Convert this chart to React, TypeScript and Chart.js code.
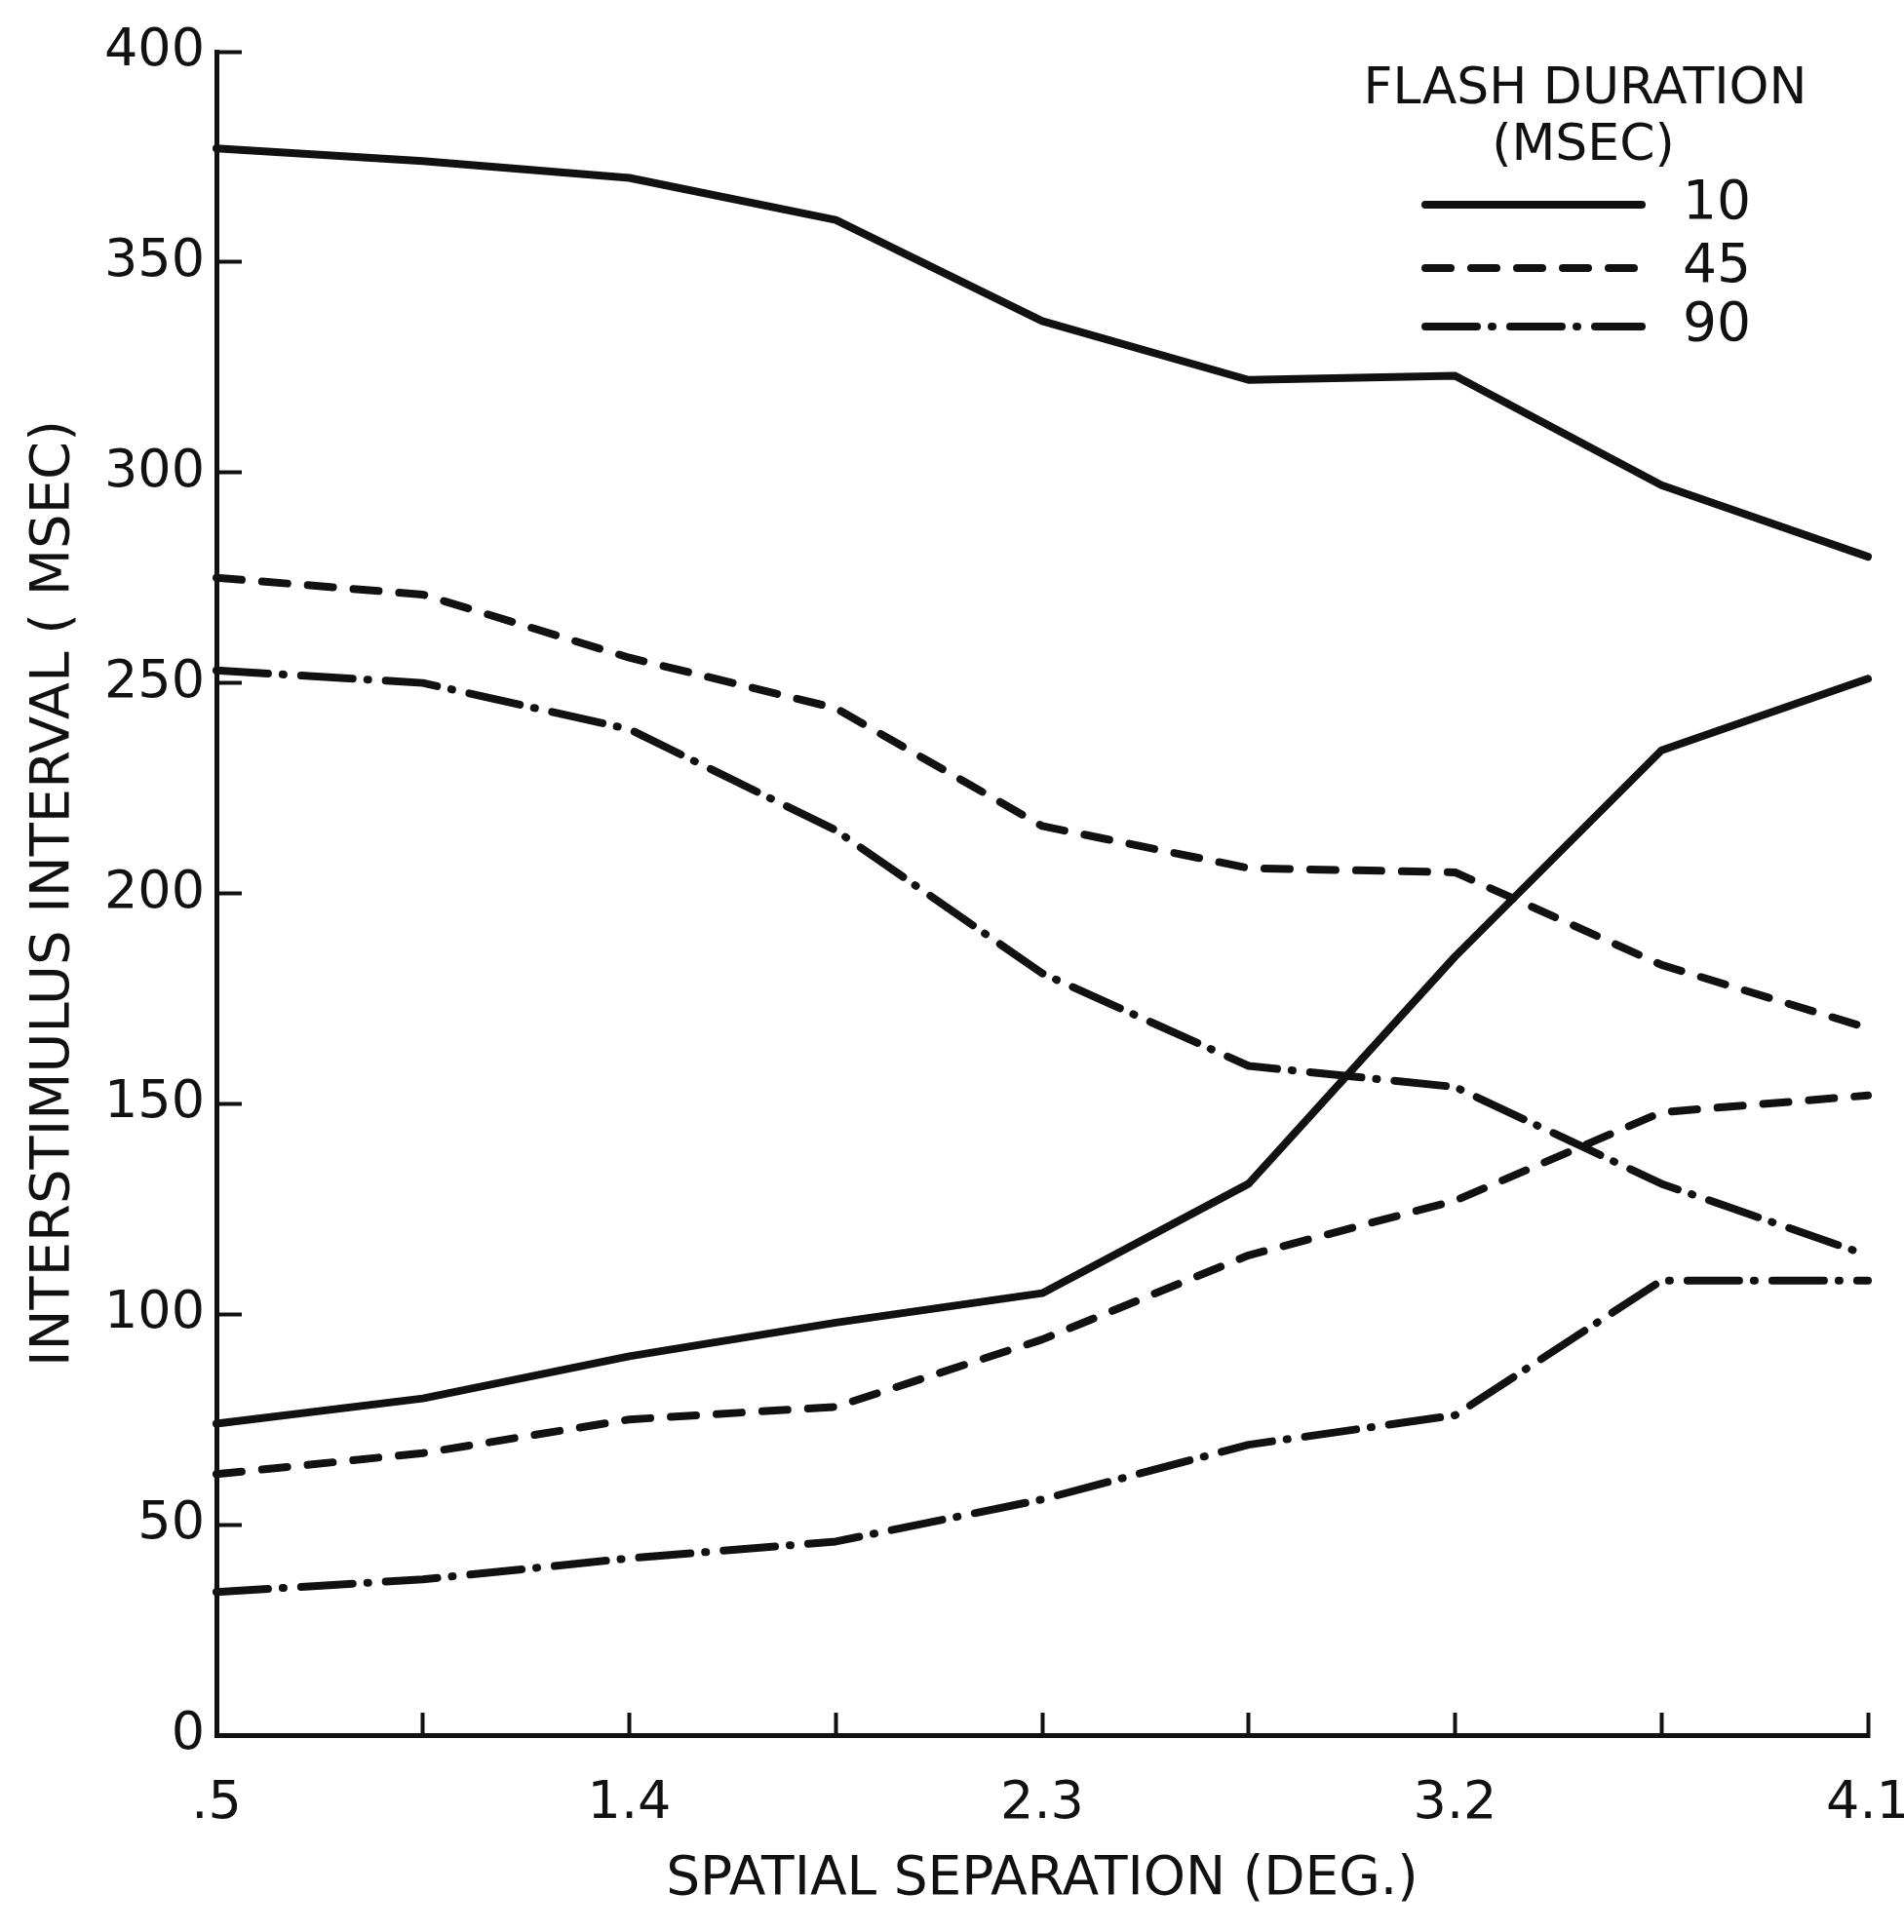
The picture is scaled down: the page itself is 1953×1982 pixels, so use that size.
import React, { FC, useEffect, useRef } from 'react';
import { Chart, registerables } from 'chart.js';
Chart.register(...registerables);

// spatial separation (deg.), one point per tick
const separations = ['.5', '.95', '1.4', '1.85', '2.3', '2.75', '3.2', '3.65', '4.1'];
const labelledSeparations = ['.5', '1.4', '2.3', '3.2', '4.1'];

// interstimulus interval (msec), upper and lower curve per flash duration
const flash10Upper = [377, 374, 370, 360, 336, 322, 323, 297, 280];
const flash10Lower = [74, 80, 90, 98, 105, 131, 185, 234, 251];
const flash45Upper = [275, 271, 256, 244, 216, 206, 205, 183, 168];
const flash45Lower = [62, 67, 75, 78, 94, 114, 127, 148, 152];
const flash90Upper = [253, 250, 239, 215, 181, 159, 154, 131, 114];
const flash90Lower = [34, 37, 42, 46, 56, 69, 76, 108, 108];

const durations = ['10', '45', '90'];
const dashes: number[][] = [[], [26, 21], [53, 15, 1, 18]];

const INK = '#111';
const FONT = "'DejaVu Sans', sans-serif";

const flashLegend = {
	id: 'flashLegend',
	afterDraw(chart: Chart) {
		const { ctx, chartArea } = chart;
		const right = chartArea.right;
		const top = chartArea.top;
		ctx.save();
		ctx.fillStyle = INK;
		ctx.strokeStyle = INK;
		ctx.textBaseline = 'middle';
		ctx.textAlign = 'center';
		ctx.font = `52px ${FONT}`;
		ctx.fillText('FLASH DURATION', right - 290, top + 39);
		ctx.fillText('(MSEC)', right - 292, top + 97);
		ctx.font = `55px ${FONT}`;
		ctx.textAlign = 'right';
		ctx.lineWidth = 8;
		ctx.lineCap = 'round';
		const rows = [top + 157, top + 222, top + 282];
		durations.forEach((d, i) => {
			ctx.setLineDash(dashes[i]);
			ctx.beginPath();
			ctx.moveTo(right - 454, rows[i]);
			ctx.lineTo(right - 232, rows[i]);
			ctx.stroke();
			ctx.setLineDash([]);
			ctx.fillText(d, right - 120, rows[i]);
		});
		ctx.restore();
	},
};

const line = (data: number[], i: number) => ({
	label: durations[i],
	data,
	borderColor: INK,
	borderWidth: 8,
	borderDash: dashes[i],
	borderCapStyle: 'round' as const,
	borderJoinStyle: 'round' as const,
	pointRadius: 0,
	tension: 0,
	fill: false,
});

const App: FC = () => {
	const canvasRef = useRef<HTMLCanvasElement>(null);

	useEffect(() => {
		if (!canvasRef.current) return;
		Chart.defaults.font.family = FONT;
		Chart.defaults.color = INK;
		const chart = new Chart(canvasRef.current, {
			type: 'line',
			data: {
				labels: separations,
				datasets: [
					line(flash10Upper, 0),
					line(flash10Lower, 0),
					line(flash45Upper, 1),
					line(flash45Lower, 1),
					line(flash90Upper, 2),
					line(flash90Lower, 2),
				],
			},
			options: {
				animation: false,
				responsive: false,
				devicePixelRatio: 1,
				layout: { padding: { top: 53, right: 37, left: 0, bottom: 0 } },
				plugins: {
					legend: { display: false },
					tooltip: { enabled: false },
				},
				scales: {
					x: {
						type: 'category',
						offset: false,
						afterFit: (scale: any) => {
							scale.height = 202;
							scale.paddingLeft = 0;
							scale.paddingRight = 0;
						},
						grid: {
							drawOnChartArea: false,
							drawTicks: true,
							tickLength: -23,
							tickWidth: 4,
							tickColor: INK,
						},
						border: { display: true, color: INK, width: 5 },
						ticks: {
							autoSkip: false,
							maxRotation: 0,
							padding: 62,
							color: INK,
							font: { size: 54 },
							callback: (_v: any, i: number) =>
								labelledSeparations.includes(separations[i]) ? separations[i] : '',
						},
						title: {
							display: true,
							text: 'SPATIAL SEPARATION (DEG.)',
							color: INK,
							font: { size: 55 },
							padding: { top: 0, bottom: 20 },
						},
					},
					y: {
						min: 0,
						max: 400,
						afterFit: (scale: any) => {
							scale.width = 222;
							scale.paddingTop = 0;
							scale.paddingBottom = 0;
						},
						grid: {
							drawOnChartArea: false,
							drawTicks: true,
							tickLength: -26,
							tickWidth: 4,
							tickColor: INK,
						},
						border: { display: true, color: INK, width: 5 },
						ticks: {
							stepSize: 50,
							padding: 38,
							color: INK,
							font: { size: 54 },
						},
						title: {
							display: true,
							text: 'INTERSTIMULUS INTERVAL ( MSEC)',
							color: INK,
							font: { size: 56 },
							padding: { top: 22, bottom: 0 },
						},
					},
				},
			},
			plugins: [flashLegend],
		});
		return () => chart.destroy();
	}, []);

	return (
		<div style={{ position: 'absolute', left: 0, top: 0, width: 1953, height: 1982, background: '#fff' }}>
			<canvas ref={canvasRef} width={1953} height={1982}></canvas>
		</div>
	);
};

export default App;
